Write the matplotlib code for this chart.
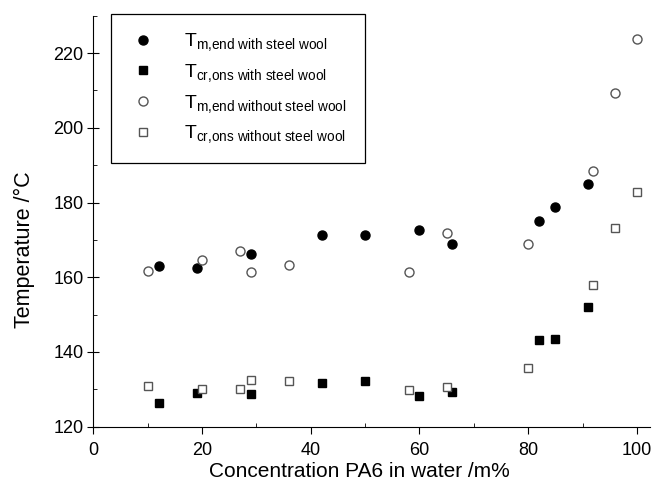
import matplotlib
matplotlib.use("Agg")
import matplotlib.pyplot as plt
from matplotlib.ticker import MultipleLocator

plt.rcParams['font.family'] = ['Liberation Sans', 'DejaVu Sans']
plt.rcParams['mathtext.fontset'] = 'custom'
plt.rcParams['mathtext.rm'] = 'Liberation Sans'
plt.rcParams['mathtext.it'] = 'Liberation Sans'

# dados
x_with = [12, 19, 29, 42, 50, 60, 66, 82, 85, 91]
tm_with = [163.0, 162.5, 166.2, 171.3, 171.3, 172.7, 168.9, 175.0, 178.8, 184.9]
tcr_with = [126.3, 129.1, 128.8, 131.6, 132.2, 128.3, 129.4, 143.1, 143.4, 152.1]

x_without = [10, 20, 27, 29, 36, 58, 65, 80, 92, 96, 100]
tm_without = [161.8, 164.6, 166.9, 161.3, 163.2, 161.3, 171.9, 168.9, 188.4, 209.3, 223.8]
tcr_without = [131.0, 130.0, 130.2, 132.4, 132.3, 129.8, 130.7, 135.8, 157.9, 173.3, 182.9]

labels = [
    r'T$_{\mathregular{m{,}end\ with\ steel\ wool}}$',
    r'T$_{\mathregular{cr{,}ons\ with\ steel\ wool}}$',
    r'T$_{\mathregular{m{,}end\ without\ steel\ wool}}$',
    r'T$_{\mathregular{cr{,}ons\ without\ steel\ wool}}$',
]

fig = plt.figure(figsize=(6.53, 4.90), dpi=100)
ax = fig.add_axes([0.1429, 0.1292, 0.8525, 0.8388])

ax.plot(x_with, tm_with, 'o', color='black', markersize=6.5, label=labels[0])
ax.plot(x_with, tcr_with, 's', color='black', markersize=5.5, label=labels[1])
ax.plot(x_without, tm_without, 'o', markerfacecolor='white', markeredgecolor='#555555',
        markeredgewidth=1.0, markersize=6.5, label=labels[2])
ax.plot(x_without, tcr_without, 's', markerfacecolor='white', markeredgecolor='#555555',
        markeredgewidth=1.0, markersize=5.5, label=labels[3])

ax.set_xlim(0, 102.4)
ax.set_ylim(120, 230)
ax.xaxis.set_major_locator(MultipleLocator(20))
ax.xaxis.set_minor_locator(MultipleLocator(10))
ax.yaxis.set_major_locator(MultipleLocator(20))
ax.yaxis.set_minor_locator(MultipleLocator(10))
ax.spines['top'].set_visible(False)
ax.spines['right'].set_visible(False)
ax.tick_params(axis='x', which='major', direction='out', length=5, labelsize=13, pad=6)
ax.tick_params(axis='y', which='major', direction='inout', length=8, labelsize=13, pad=3)
ax.tick_params(which='minor', direction='in', length=3)

ax.set_xlabel('Concentration PA6 in water /m%', fontsize=15)
ax.set_ylabel('Temperature /°C', fontsize=15.5)
ax.xaxis.set_label_coords(0.478, -0.085)
ax.yaxis.set_label_coords(-0.105, 0.43)

leg = ax.legend(loc='upper left', bbox_to_anchor=(0.031, 1.004), borderaxespad=0,
                fontsize=14, fancybox=False, edgecolor='black', framealpha=1,
                labelspacing=0.45, handletextpad=1.4, borderpad=0.9, handlelength=1.5)
leg.get_frame().set_linewidth(0.9)

plt.savefig('out.png', dpi=100)
